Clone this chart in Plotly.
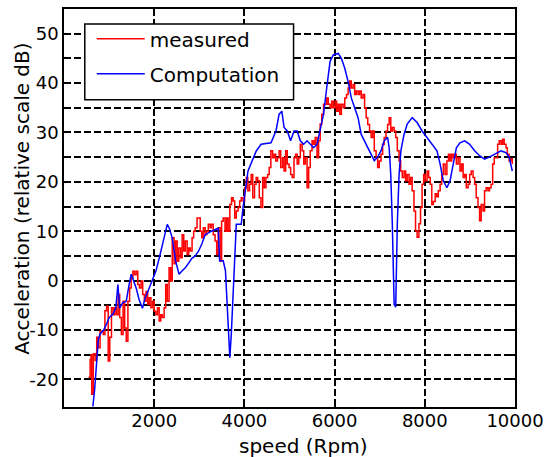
import plotly.graph_objects as go

# ---- data ----
measured_rpm = [545, 580, 600, 615, 650, 690, 725, 760, 800, 870, 907, 945, 980, 1015, 1053, 1090,
    1126, 1163, 1200, 1235, 1272, 1310, 1345, 1380, 1417, 1455, 1490, 1527, 1563, 1600, 1636, 1672,
    1710, 1745, 1781, 1818, 1855, 1890, 1927, 1963, 2000, 2036, 2073, 2110, 2145, 2180, 2220, 2255,
    2290, 2330, 2365, 2400, 2440, 2475, 2510, 2545, 2585, 2620, 2655, 2690, 2730, 2765, 2800, 2840,
    2875, 2910, 2950, 2985, 3020, 3055, 3090, 3130, 3165, 3200, 3240, 3270, 3310, 3350, 3385, 3420,
    3460, 3495, 3530, 3570, 3605, 3640, 3677, 3715, 3750, 3785, 3820, 3860, 3895, 3930, 3970, 4005,
    4040, 4077, 4115, 4150, 4185, 4225, 4260, 4295, 4330, 4367, 4405, 4440, 4477, 4515, 4550, 4586,
    4625, 4660, 4695, 4733, 4770, 4805, 4845, 4880, 4915, 4950, 4990, 5025, 5060, 5100, 5135, 5170,
    5205, 5240, 5280, 5315, 5350, 5390, 5425, 5460, 5500, 5535, 5570, 5610, 5645, 5680, 5715, 5755,
    5790, 5825, 5860, 5900, 5935, 5970, 6010, 6045, 6080, 6115, 6150, 6190, 6225, 6265, 6300, 6335,
    6370, 6410, 6445, 6480, 6520, 6555, 6590, 6630, 6665, 6700, 6735, 6775, 6810, 6845, 6880, 6920,
    6955, 6990, 7030, 7065, 7100, 7140, 7175, 7210, 7245, 7280, 7320, 7355, 7390, 7430, 7465, 7500,
    7540, 7575, 7610, 7650, 7685, 7720, 7760, 7795, 7830, 7870, 7905, 7940, 7975, 8010, 8050, 8085,
    8120, 8155, 8190, 8230, 8265, 8300, 8340, 8375, 8410, 8450, 8490, 8525, 8560, 8595, 8630, 8670,
    8700, 8740, 8780, 8815, 8850, 8885, 8920, 8960, 8995, 9030, 9070, 9105, 9140, 9180, 9215, 9250,
    9290, 9325, 9360, 9400, 9435, 9470, 9505, 9540, 9575, 9615, 9650, 9690, 9725, 9760, 9800, 9830,
    9870, 9905, 9940]
measured_db = [-19.6, -16, -15, -23, -14.8, -16.2, -11.5, -13.6, -10.2, -10.9, -6.1, -5.2, -16.3, -11.5, -5.5, -6.9,
    -5.5, -6.9, -2.8, -7.5, -10.9, -4.2, -9.6, -12.3, -4.2, -1.5, 0.5, 1.9, 1.2, 1.9, -0.8, -1.5,
    -0.1, -2.8, -4.2, -2.2, -4.8, -3.5, -5.5, -4.2, -6.2, -6.9, -5.5, -8.2, -6.9, -7.5, -5.5, -0.8,
    -4.2, 2.6, -0.1, 8.7, 3.4, 8, 3.9, 6.6, 4.6, 9.3, 6, 8, 5.3, 6.6, 6, 8.7,
    10, 10.7, 12.7, 12.7, 10, 8.7, 10.7, 9.3, 10, 11.4, 10.7, 11.4, 9.3, 8, 5.3, 10.7,
    3.9, 12, 12.7, 10, 12.7, 10, 15.4, 16.8, 16.1, 12.7, 14.1, 14.8, 16.1, 16.8, 16.1, 18.8,
    20.9, 18.2, 19.5, 21.5, 16.8, 19.5, 20.9, 20.2, 16.8, 14.8, 20.9, 18.8, 20.9, 21.5, 22.9, 26.3,
    24.9, 25.6, 24.2, 24.9, 26.3, 22.9, 24.9, 22.2, 26.3, 23.6, 22.9, 21.5, 20.9, 24.9, 25.6, 23.6,
    24.9, 27.6, 26.3, 23.6, 24.9, 18.8, 22.9, 26.3, 28.3, 27.6, 29, 24.9, 28.3, 31.7, 33.7, 35.7,
    35.7, 37, 35.7, 35, 36.3, 35, 36.3, 34.3, 35.7, 33.7, 35.7, 35, 37, 37.7, 39, 40.4,
    39, 39.7, 37.7, 38.4, 37.7, 38.4, 37, 37.7, 35, 33, 31.6, 30.3, 29, 30.3, 26.3, 24.9,
    22.9, 24.2, 25.6, 27.6, 29, 30.3, 31.6, 33, 30.3, 31, 30.3, 29, 26.3, 24.2, 22.2, 20.9,
    22.2, 20.2, 21.5, 19.5, 20.9, 18.2, 14.1, 10.1, 8.8, 11.5, 14.8, 19.5, 21.5, 20.2, 22.2, 20.9,
    19.5, 15.4, 16, 17.6, 17, 18.2, 19.5, 21.5, 23.6, 21.5, 24.2, 25.6, 24.2, 25.6, 24.9, 25.6,
    23.6, 24.9, 22.2, 23.6, 20.9, 21.5, 18.8, 19.5, 21.5, 22.2, 20.9, 19.5, 16.8, 14.8, 12.1, 15.4,
    14.1, 18.2, 18.8, 18.2, 18.8, 19.5, 23.6, 24.9, 24.9, 27.6, 28.3, 27.6, 28.6, 27.6, 26.9, 25.6,
    24.2, 24.9, 23.6]

computation_rpm = [640, 680, 720, 760, 800, 880, 944, 1000, 1085, 1150, 1195, 1235, 1300, 1380, 1440, 1490,
    1600, 1670, 1740, 1800, 1890, 1960, 2040, 2110, 2220, 2290, 2340, 2400, 2475, 2550, 2620, 2690,
    2760, 2835, 2910, 2985, 3060, 3130, 3270, 3420, 3450, 3530, 3580, 3600, 3640, 3677, 3710, 3750,
    3790, 3820, 3930, 3970, 4080, 4190, 4260, 4370, 4590, 4700, 4770, 4830, 4880, 4950, 5025, 5100,
    5170, 5240, 5315, 5390, 5460, 5535, 5610, 5680, 5755, 5825, 5900, 5970, 6080, 6150, 6225, 6300,
    6370, 6445, 6520, 6590, 6665, 6735, 6810, 6880, 6955, 7030, 7100, 7175, 7210, 7245, 7280, 7320,
    7355, 7390, 7430, 7470, 7540, 7610, 7720, 7830, 7940, 8050, 8160, 8270, 8340, 8410, 8490, 8560,
    8630, 8700, 8780, 8885, 8995, 9105, 9215, 9325, 9430, 9540, 9690, 9800, 9870, 9940]
computation_db = [-25.5, -22, -17, -12, -10.8, -10, -8.8, -7.5, -6.8, -5.5, -0.8, -5.6, -4.5, -4.2, -1.0, 1.3,
    -1.5, -4, -5.6, -3.5, -1.5, 0, 2, 4.5, 8.5, 11.4, 10.5, 8.6, 4, 1.3, 2, 2.6,
    3.5, 4.5, 5, 6, 7.5, 9.3, 10, 10.6, 4, 4, 2, -1.4, -10, -15.6, -10.8, -2.1,
    6, 11.4, 11.4, 14.8, 22.2, 24.9, 26.2, 27.6, 27.9, 30.3, 33.7, 34.3, 31, 30.3, 28.3, 30.3,
    30.3, 28.3, 27.6, 28.3, 27.6, 26.9, 27.6, 30.3, 33.7, 39, 44.4, 45.7, 46, 45, 43, 40.3,
    37, 35, 33, 29.6, 28.3, 26.9, 25.6, 24.3, 25, 26.3, 28.3, 29, 26.9, 21.5, 11.4, -4.8,
    -5.4, 11.4, 21.5, 26.3, 29.6, 31.7, 33, 32, 30.3, 29, 27.6, 26.3, 23.6, 20.2, 18.8, 20.2,
    23.6, 26.9, 27.9, 28.3, 27.6, 26.3, 25.3, 24.6, 25, 25.6, 26.3, 25.9, 25, 22.2]

x_ticks = [2000, 4000, 6000, 8000, 10000]
y_ticks = [-20, -15, -10, -5, 0, 5, 10, 15, 20, 25, 30, 35, 40, 45, 50]
y_labels = [str(v) if v % 10 == 0 else "" for v in y_ticks]

FONT = "DejaVu Sans"

fig = go.Figure()
fig.add_trace(go.Scatter(x=measured_rpm, y=measured_db, mode="lines", name="measured",
                         line=dict(color="#ff0000", width=1.5, shape="hv"), legend="legend"))
fig.add_trace(go.Scatter(x=computation_rpm, y=computation_db, mode="lines", name="Computation",
                         line=dict(color="#0000ff", width=1.5), legend="legend2"))

axis_common = dict(showline=True, linecolor="black", linewidth=1.5, mirror="ticks",
                   ticks="inside", ticklen=5, tickcolor="black", tickwidth=1.5,
                   showgrid=True, gridcolor="black", gridwidth=1.6, griddash="7px,3px",
                   zeroline=False, tickfont=dict(family=FONT, size=18, color="black"))

fig.update_xaxes(range=[0, 10000], tickvals=x_ticks, ticktext=[str(v) for v in x_ticks],
                 ticklabelstandoff=-3, **axis_common)
fig.update_yaxes(range=[-25.6, 55], tickvals=y_ticks, ticktext=y_labels, **axis_common)

leg_common = dict(xanchor="left", yanchor="middle", bgcolor="rgba(0,0,0,0)", borderwidth=0,
                  font=dict(family=FONT, size=20, color="black"), itemwidth=48)

fig.update_layout(
    width=551, height=457,
    margin=dict(l=64, r=31, t=7, b=50),
    paper_bgcolor="white", plot_bgcolor="white",
    font=dict(family=FONT, color="black"),
    showlegend=True,
    legend=dict(x=0.0615, y=0.925, **leg_common),
    legend2=dict(x=0.0615, y=0.837, **leg_common),
    shapes=[dict(type="rect", xref="paper", yref="paper", x0=0.0461, x1=0.509, y0=0.772, y1=0.962,
                 fillcolor="white", line=dict(color="black", width=1.5), layer="above")],
    annotations=[
        dict(text="speed (Rpm)", xref="paper", yref="paper", x=0.531, y=-0.097,
             xanchor="center", yanchor="middle", showarrow=False,
             font=dict(family=FONT, size=20, color="black")),
        dict(text="Acceleration (relative scale dB)", xref="paper", yref="paper", x=-0.092, y=0.522,
             xanchor="center", yanchor="middle", textangle=-90, showarrow=False,
             font=dict(family=FONT, size=20, color="black")),
    ],
)

fig.write_html("out.html")
